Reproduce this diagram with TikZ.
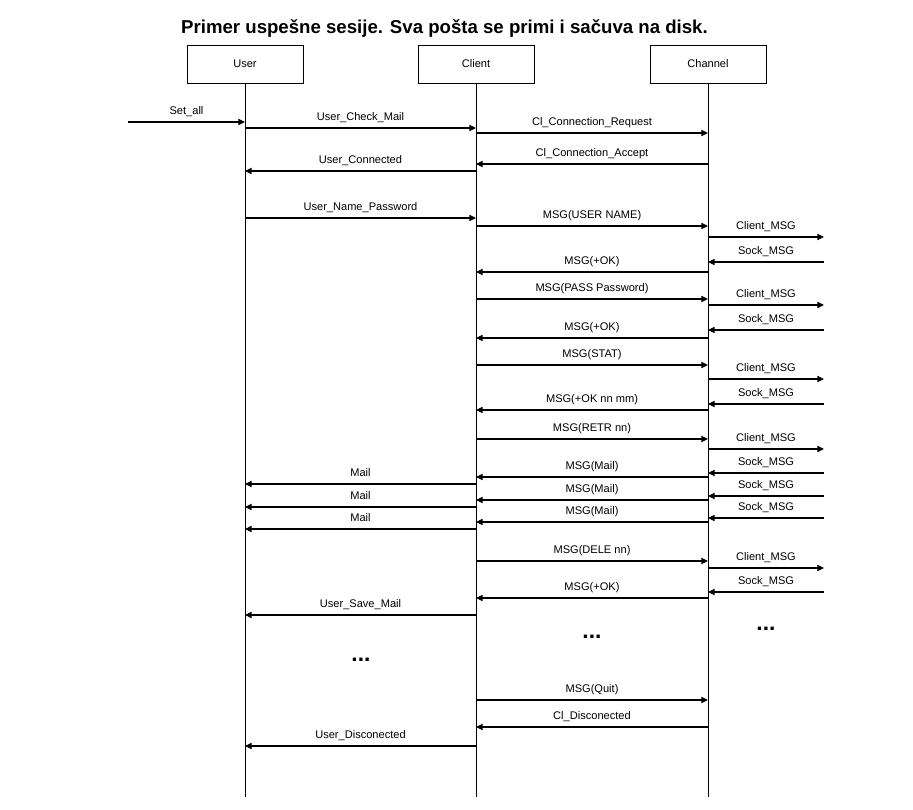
\documentclass[tikz,border=0pt]{standalone}
\usepackage{fontspec}
\setmainfont{Liberation Sans}
\usetikzlibrary{arrows.meta}
\tikzset{
  actor/.style={draw, line width=0.5pt, minimum width=2.32cm, minimum height=0.76cm, inner sep=0pt, font=\fontsize{6.3}{7.5}\selectfont},
  life/.style={line width=0.5pt},
  msg/.style={line width=0.6pt, -{Triangle[length=3.8pt,width=3.6pt]}},
  lbl/.style={anchor=base, yshift=4.5pt, inner sep=0pt, font=\fontsize{6.3}{7.5}\selectfont},
  dots/.style={font=\bfseries\fontsize{13}{15}\selectfont},
}

\begin{document}
\begin{tikzpicture}[x=0.02cm, y=-0.02cm]
\useasboundingbox (0,0) rectangle (913,810);
\node[font=\bfseries\fontsize{10.6}{12}\selectfont] (title) at (444.5,28) {Primer uspešne sesije. Sva pošta se primi i sačuva na disk.};
\node[actor] (user) at (245,64) {User};
\node[actor] (client) at (476,64) {Client};
\node[actor] (channel) at (708,64) {Channel};
\coordinate (src) at (128,0);
\coordinate (env) at (824,0);
\draw[life] (user.south) -- (user |- 0,797);
\draw[life] (client.south) -- (client |- 0,797);
\draw[life] (channel.south) -- (channel |- 0,797);
% connect
\draw[msg] (src |- 0,122) -- node[lbl] {Set\_all} (user |- 0,122);
\draw[msg] (user |- 0,128) -- node[lbl] {User\_Check\_Mail} (client |- 0,128);
\draw[msg] (client |- 0,133) -- node[lbl] {Cl\_Connection\_Request} (channel |- 0,133);
\draw[msg] (channel |- 0,164) -- node[lbl] {Cl\_Connection\_Accept} (client |- 0,164);
\draw[msg] (client |- 0,171) -- node[lbl] {User\_Connected} (user |- 0,171);
% login
\draw[msg] (user |- 0,218) -- node[lbl] {User\_Name\_Password} (client |- 0,218);
\draw[msg] (client |- 0,226) -- node[lbl] {MSG(USER NAME)} (channel |- 0,226);
\draw[msg] (channel |- 0,237) -- node[lbl] {Client\_MSG} (env |- 0,237);
\draw[msg] (env |- 0,262) -- node[lbl] {Sock\_MSG} (channel |- 0,262);
\draw[msg] (channel |- 0,272) -- node[lbl] {MSG(+OK)} (client |- 0,272);
\draw[msg] (client |- 0,299) -- node[lbl] {MSG(PASS Password)} (channel |- 0,299);
\draw[msg] (channel |- 0,305) -- node[lbl] {Client\_MSG} (env |- 0,305);
\draw[msg] (env |- 0,330) -- node[lbl] {Sock\_MSG} (channel |- 0,330);
\draw[msg] (channel |- 0,338) -- node[lbl] {MSG(+OK)} (client |- 0,338);
% stat
\draw[msg] (client |- 0,365) -- node[lbl] {MSG(STAT)} (channel |- 0,365);
\draw[msg] (channel |- 0,379) -- node[lbl] {Client\_MSG} (env |- 0,379);
\draw[msg] (env |- 0,404) -- node[lbl] {Sock\_MSG} (channel |- 0,404);
\draw[msg] (channel |- 0,410) -- node[lbl] {MSG(+OK nn mm)} (client |- 0,410);
% retr
\draw[msg] (client |- 0,439) -- node[lbl] {MSG(RETR nn)} (channel |- 0,439);
\draw[msg] (channel |- 0,449) -- node[lbl] {Client\_MSG} (env |- 0,449);
\draw[msg] (env |- 0,473) -- node[lbl] {Sock\_MSG} (channel |- 0,473);
\draw[msg] (channel |- 0,477) -- node[lbl] {MSG(Mail)} (client |- 0,477);
\draw[msg] (client |- 0,484) -- node[lbl] {Mail} (user |- 0,484);
\draw[msg] (env |- 0,496) -- node[lbl] {Sock\_MSG} (channel |- 0,496);
\draw[msg] (channel |- 0,500) -- node[lbl] {MSG(Mail)} (client |- 0,500);
\draw[msg] (client |- 0,507) -- node[lbl] {Mail} (user |- 0,507);
\draw[msg] (env |- 0,518) -- node[lbl] {Sock\_MSG} (channel |- 0,518);
\draw[msg] (channel |- 0,522) -- node[lbl] {MSG(Mail)} (client |- 0,522);
\draw[msg] (client |- 0,529) -- node[lbl] {Mail} (user |- 0,529);
% dele
\draw[msg] (client |- 0,561) -- node[lbl] {MSG(DELE nn)} (channel |- 0,561);
\draw[msg] (channel |- 0,568) -- node[lbl] {Client\_MSG} (env |- 0,568);
\draw[msg] (env |- 0,592) -- node[lbl] {Sock\_MSG} (channel |- 0,592);
\draw[msg] (channel |- 0,598) -- node[lbl] {MSG(+OK)} (client |- 0,598);
\draw[msg] (client |- 0,615) -- node[lbl] {User\_Save\_Mail} (user |- 0,615);
\node[dots] (dotsA) at (592,637) {...};
\node[dots] (dotsB) at (766,629) {...};
\node[dots] (dotsC) at (361,660) {...};
% quit
\draw[msg] (client |- 0,700) -- node[lbl] {MSG(Quit)} (channel |- 0,700);
\draw[msg] (channel |- 0,727) -- node[lbl] {Cl\_Disconected} (client |- 0,727);
\draw[msg] (client |- 0,746) -- node[lbl] {User\_Disconected} (user |- 0,746);
\end{tikzpicture}
\end{document}
